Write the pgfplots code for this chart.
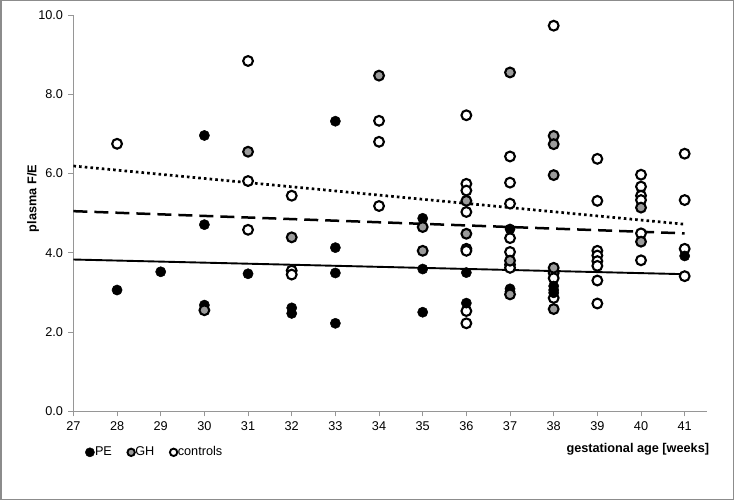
\documentclass[border=0pt]{standalone}
\usepackage{pgfplots}
\pgfplotsset{compat=1.18}
\usepackage{fontspec}
\setmainfont{Liberation Sans}
\definecolor{axisgray}{RGB}{150,150,150}
\definecolor{ghgray}{RGB}{155,155,155}
\definecolor{framegray}{RGB}{140,140,140}
\pgfplotsset{
  pestyle/.style={only marks, mark=*, mark size=5.1bp, mark options={fill=black, draw=black, line width=0.5bp}},
  ghstyle/.style={only marks, mark=*, mark size=4.9bp, mark options={fill=ghgray, draw=black, line width=2.1bp}},
  ctstyle/.style={only marks, mark=*, mark size=4.9bp, mark options={fill=white, draw=black, line width=2.1bp}},
}
\newcommand\lblfont{\fontsize{12.7bp}{15bp}\selectfont}
\begin{document}
\lblfont
\begin{tikzpicture}
\draw[framegray, line width=1.5bp] (0.75bp,0.75bp) rectangle (733.25bp,499.25bp);
\begin{axis}[
  at={(73.4bp,88.7bp)}, anchor=south west,
  scale only axis, width=633.1bp, height=396.3bp,
  xmin=27, xmax=41.5, ymin=0, ymax=10,
  axis x line=bottom, axis y line=left,
  axis line style={axisgray, line width=0.8bp, -},
  xtick={27,...,41}, ytick={0,2,...,10},
  tick style={axisgray, line width=0.8bp},
  major tick length=5bp,
  tick align=outside,
  clip=false,
  /pgf/number format/assume math mode=true,
  tick label style={font=\lblfont, black},
  yticklabel style={/pgf/number format/fixed, /pgf/number format/fixed zerofill, /pgf/number format/precision=1},
  yticklabel style={xshift=-1bp},
  xticklabel style={yshift=-1bp},
  xlabel={gestational age [weeks]},
  xlabel style={at={(axis description cs:1.0044,-0.0964)}, anchor=east, inner sep=0pt, font=\lblfont\bfseries},
  ylabel={plasma F/E},
  ylabel style={at={(axis description cs:-0.0638,0.537)}, anchor=center, inner sep=0pt, font=\lblfont\bfseries},
  legend style={at={(axis description cs:0.0185,-0.1035)}, anchor=west, draw=none, fill=none,
    legend columns=3, inner sep=0pt, font=\lblfont,
    nodes={inner sep=0.5bp},
    /tikz/every even column/.append style={column sep=15bp}},
  legend image code/.code={\draw[#1] plot coordinates {(0bp,0bp)};},
]
\addlegendimage{only marks, mark=*, mark size=4.6bp, mark options={fill=black, draw=black, line width=0.4bp}}
\addlegendimage{only marks, mark=*, mark size=3.7bp, mark options={fill=ghgray, draw=black, line width=1.9bp}}
\addlegendimage{only marks, mark=*, mark size=3.7bp, mark options={fill=white, draw=black, line width=1.9bp}}
\legend{PE,GH,controls}

% controls
\addplot[ctstyle, forget plot] coordinates {
(28,6.75) (31,8.84) (31,5.81) (31,4.58) (32,5.44) (32,3.55) (32,3.45)
(34,7.33) (34,6.80) (34,5.18)
(36,7.47) (36,5.74) (36,5.57) (36,5.03) (36,4.10) (36,4.05) (36,2.53) (36,2.22)
(37,6.43) (37,5.77) (37,5.24) (37,4.37) (37,4.02) (37,3.70) (37,3.62)
(38,9.73) (38,3.49) (38,3.36) (38,2.86)
(39,6.37) (39,5.31) (39,4.05) (39,3.93) (39,3.79) (39,3.67) (39,3.30) (39,2.72)
(40,5.97) (40,5.67) (40,5.44) (40,5.33) (40,4.49) (40,3.81)
(41,6.50) (41,5.33) (41,4.10) (41,3.41)
};
% PE
\addplot[pestyle, forget plot] coordinates {
(28,3.06) (29,3.52) (30,6.96) (30,4.71) (30,2.68) (31,3.47) (32,2.61) (32,2.47)
(33,7.32) (33,4.13) (33,3.49) (33,2.22) (35,4.87) (35,3.59) (35,2.50)
(36,3.50) (36,2.73) (37,4.60) (37,3.09) (37,3.02) (38,3.16) (38,3.06) (38,2.99) (41,3.92)
};
% GH
\addplot[ghstyle, forget plot] coordinates {
(30,2.55) (31,6.55) (32,4.39) (34,8.47) (35,4.65) (35,4.05) (36,5.31) (36,4.48)
(37,8.55) (37,3.80) (37,2.95) (38,6.95) (38,6.74) (38,5.96) (38,3.62) (38,2.58)
(40,5.14) (40,4.28)
};
% trend lines
\addplot[black, line width=1.9bp, forget plot] coordinates {(27,3.83) (41,3.46)};
\addplot[black, line width=2.5bp, dash pattern=on 14bp off 7bp, forget plot] coordinates {(27,5.05) (41,4.49)};
\addplot[black, line width=2.7bp, dash pattern=on 2.6bp off 3.1bp, forget plot] coordinates {(27,6.19) (41,4.72)};
\end{axis}
\end{tikzpicture}
\end{document}
